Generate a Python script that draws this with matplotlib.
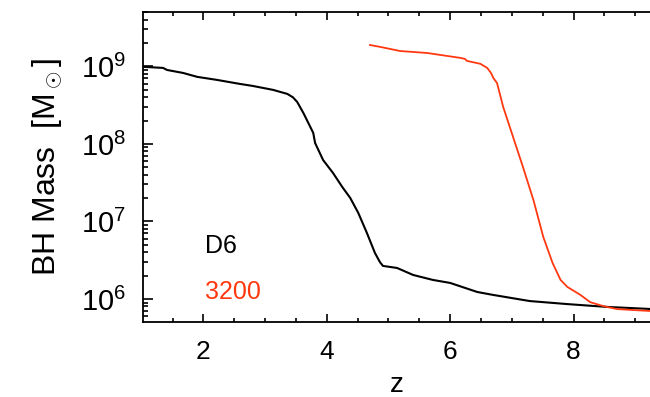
import matplotlib
matplotlib.use("Agg")
import matplotlib.pyplot as plt
from matplotlib.ticker import LogLocator, LogFormatterMathtext, MultipleLocator, NullFormatter

plt.rcParams['font.family'] = ['Liberation Sans', 'DejaVu Sans']
plt.rcParams['mathtext.fontset'] = 'custom'
plt.rcParams['mathtext.rm'] = 'Liberation Sans'
plt.rcParams['mathtext.it'] = 'Liberation Sans:italic'
plt.rcParams['mathtext.bf'] = 'Liberation Sans:bold'

# D6 run
d6_z = [1.0, 1.345, 1.41, 1.67, 1.90, 2.22, 2.59, 2.80, 3.13, 3.36, 3.45, 3.52, 3.62, 3.78, 3.81,
        3.94, 4.10, 4.25, 4.38, 4.51, 4.65, 4.78, 4.86, 4.91, 5.14, 5.40, 5.72, 6.00, 6.44,
        6.69, 7.29, 7.89, 8.54, 9.24, 9.4]
d6_m = [9.9e8, 9.57e8, 9.0e8, 8.24e8, 7.33e8, 6.70e8, 5.95e8, 5.60e8, 4.98e8, 4.42e8, 4.0e8, 3.48e8,
        2.51e8, 1.39e8, 1.03e8, 6.2e7, 4.23e7, 2.79e7, 2.01e7, 1.29e7, 7.11e6, 3.93e6, 3.0e6,
        2.67e6, 2.51e6, 2.04e6, 1.76e6, 1.61e6, 1.23e6, 1.13e6, 9.4e5, 8.6e5, 7.9e5, 7.43e5, 7.3e5]

# 3200 run
r3200_z = [4.70, 4.86, 5.19, 5.63, 6.16, 6.24, 6.27, 6.49, 6.60, 6.66, 6.70, 6.76, 6.86, 7.02, 7.18,
           7.35, 7.51, 7.66, 7.79, 7.90, 8.11, 8.27, 8.48, 8.71, 9.24, 9.4]
r3200_m = [1.89e9, 1.79e9, 1.58e9, 1.49e9, 1.29e9, 1.25e9, 1.18e9, 1.08e9, 9.57e8, 8.3e8, 7.1e8, 6.1e8,
           3.0e8, 1.23e8, 5.05e7, 1.89e7, 6.3e6, 2.92e6, 1.76e6, 1.43e6, 1.13e6, 9.1e5, 8.1e5,
           7.4e5, 7.0e5, 6.95e5]

labels = ["D6", "3200"]
colors = ["black", "#ff3810"]

fig = plt.figure(figsize=(6.5, 3.97), dpi=100)
ax = fig.add_axes([0.220, 0.189, 0.780, 0.781])

ax.plot(d6_z, d6_m, color=colors[0], lw=1.5)
ax.plot(r3200_z, r3200_m, color=colors[1], lw=1.3)

ax.set_yscale('log')
ax.set_xlim(1.02, 9.24)
ax.set_ylim(5.05e5, 5.05e9)

ax.xaxis.set_major_locator(MultipleLocator(2))
ax.xaxis.set_minor_locator(MultipleLocator(0.5))
ax.yaxis.set_major_locator(LogLocator(base=10))
ax.yaxis.set_minor_locator(LogLocator(base=10, subs=range(2, 10)))
ax.yaxis.set_major_formatter(LogFormatterMathtext())
ax.yaxis.set_minor_formatter(NullFormatter())

ax.tick_params(axis='both', which='both', direction='in', top=True, right=False, width=1.2)
ax.tick_params(axis='x', which='major', length=5.5, pad=13, labelsize=19)
ax.tick_params(axis='x', which='minor', length=3)
ax.tick_params(axis='y', which='major', length=7.5, pad=12, labelsize=21)
ax.tick_params(axis='y', which='minor', length=3.8)

for s in ['left', 'bottom', 'top']:
    ax.spines[s].set_linewidth(1.3)
ax.spines['right'].set_visible(False)

ax.set_xlabel('z', fontsize=20, labelpad=6)
ax.set_ylabel(r'BH Mass  [M$_\odot$]', fontsize=23, labelpad=12)

ax.text(2.03, 10**6.594, labels[0], color=colors[0], fontsize=18, va='baseline', ha='left')
ax.text(2.03, 10**6.0, labels[1], color=colors[1], fontsize=18, va='baseline', ha='left')

fig.savefig('out.png', dpi=100)
